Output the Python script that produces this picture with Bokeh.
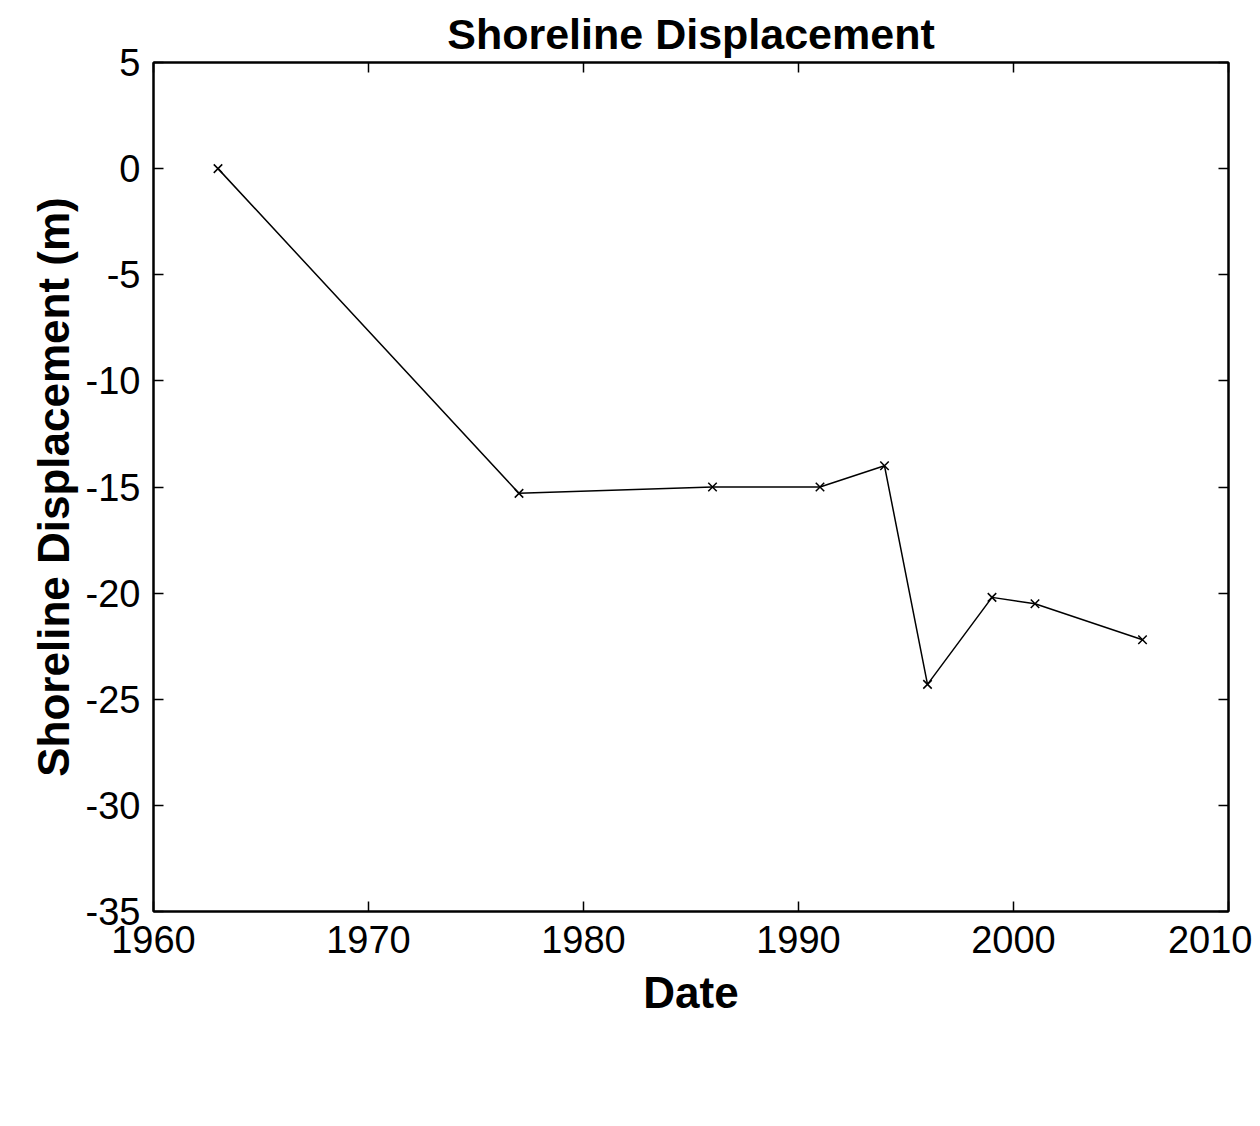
from bokeh.plotting import figure
from bokeh.models import Range1d, LinearAxis, FixedTicker
from bokeh.embed import file_html
from bokeh.resources import INLINE

years = [1963, 1977, 1986, 1991, 1994, 1996, 1999, 2001, 2006]
displacement = [0.0, -15.3, -15.0, -15.0, -14.0, -24.3, -20.2, -20.5, -22.2]
x_ticks = [1960, 1970, 1980, 1990, 2000, 2010]
y_ticks = [-35, -30, -25, -20, -15, -10, -5, 0, 5]
y_tick_labels = ["-35", "-30", "-25", "-20", "-15", "-10", "-5", "0", "5"]

TICK_FONT = "Liberation Sans"
LABEL_FONT = "Liberation Sans"

p = figure(frame_width=1075, frame_height=849,
           x_range=Range1d(1960, 2010), y_range=Range1d(-35, 5),
           output_backend="svg", toolbar_location=None,
           min_border_left=153, min_border_top=62, min_border_right=24,
           min_border_bottom=199)
p.background_fill_color = "white"
p.border_fill_color = "white"
p.outline_line_color = "black"
p.outline_line_width = 2
p.xgrid.visible = False
p.ygrid.visible = False

p.title.text = "Shoreline Displacement"
p.title.align = "center"
p.title.text_font = LABEL_FONT
p.title.text_font_size = "43px"
p.title.text_font_style = "bold"
p.title.text_color = "black"
p.title.text_line_height = 0.6
p.title.standoff = 10

def style_axis(ax, ticks, show_labels):
    ax.ticker = FixedTicker(ticks=ticks)
    ax.axis_line_color = "black"
    ax.axis_line_width = 2
    ax.major_tick_in = 10
    ax.major_tick_out = 0
    ax.major_tick_line_width = 1.5
    ax.major_tick_line_color = "black"
    ax.minor_tick_line_color = None
    ax.major_label_text_font = TICK_FONT
    ax.major_label_text_color = "black"
    if show_labels:
        ax.major_label_text_font_size = "38px"
    else:
        ax.major_label_text_font_size = "0px"
        ax.major_label_standoff = 0

xa = p.xaxis[0]
ya = p.yaxis[0]
style_axis(xa, x_ticks, True)
style_axis(ya, y_ticks, True)
ya.major_label_overrides = dict(zip(y_ticks, y_tick_labels))
xa.major_label_standoff = 14
ya.major_label_standoff = 13
xa.axis_label = "Date"
ya.axis_label = "Shoreline Displacement (m)"
for ax in (xa, ya):
    ax.axis_label_text_font = LABEL_FONT
    ax.axis_label_text_font_size = "44px"
    ax.axis_label_text_font_style = "bold"
    ax.axis_label_text_color = "black"
xa.axis_label_standoff = 12
ya.axis_label_standoff = 5

top_ax = LinearAxis()
right_ax = LinearAxis()
style_axis(top_ax, x_ticks, False)
style_axis(right_ax, y_ticks, False)
p.add_layout(top_ax, "above")
p.add_layout(right_ax, "right")

p.line(years, displacement, line_color="black", line_width=1.5)
p.scatter(years, displacement, marker="x", size=12, line_color="black", line_width=1.5)

open("out.html", "w").write(file_html(p, INLINE))
